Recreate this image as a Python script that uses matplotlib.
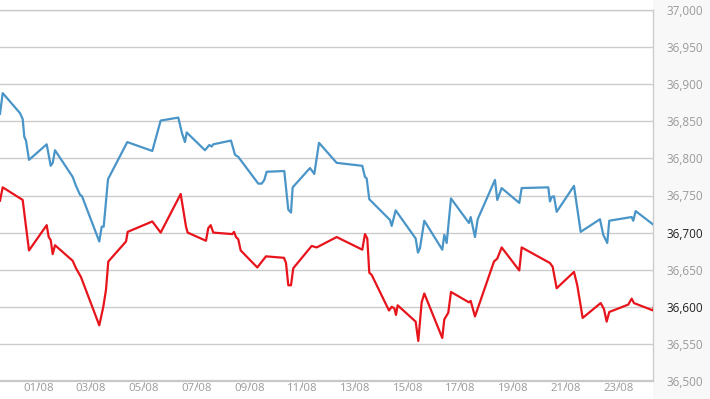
import matplotlib
matplotlib.use("Agg")
import matplotlib.pyplot as plt
from matplotlib.patches import Rectangle
from matplotlib.ticker import FuncFormatter

# time in days counted from 01/08 00:00
blue_t = [-1.451, -1.349, -0.693, -0.591, -0.530, -0.466, -0.352, 0.318, 0.470, 0.546,
          0.633, 1.303, 1.428, 1.580, 1.656, 2.311, 2.402, 2.478, 2.641, 3.372,
          4.319, 4.637, 5.304, 5.444, 5.558, 5.622, 6.316, 6.478, 6.569, 6.630,
          7.301, 7.452, 7.577, 8.335, 8.464, 8.562, 8.653, 9.320, 9.471, 9.574,
          9.638, 10.294, 10.457, 10.635, 11.305, 12.275, 12.377, 12.442, 12.540, 13.325,
          13.389, 13.540, 14.298, 14.385, 14.461, 14.624, 15.306, 15.382, 15.473, 15.636,
          16.317, 16.382, 16.545, 16.647, 17.302, 17.390, 17.556, 18.223, 18.314, 19.322,
          19.386, 19.451, 19.538, 19.640, 20.296, 20.549, 21.281, 21.406, 21.557, 21.633,
          22.481, 22.542, 22.633, 23.364]
blue_v = [36860, 36888, 36861, 36853, 36829, 36824, 36798, 36819, 36790, 36794,
          36811, 36775, 36763, 36751, 36749, 36688, 36708, 36708, 36772, 36822,
          36810, 36851, 36855, 36834, 36822, 36835, 36811, 36818, 36816, 36819,
          36824, 36805, 36802, 36766, 36766, 36771, 36782, 36783, 36731, 36727,
          36761, 36787, 36779, 36821, 36794, 36790, 36775, 36773, 36745, 36717,
          36709, 36730, 36692, 36673, 36679, 36716, 36677, 36697, 36686, 36746,
          36713, 36721, 36694, 36718, 36771, 36744, 36760, 36740, 36760, 36761,
          36742, 36748, 36749, 36728, 36763, 36701, 36718, 36697, 36686, 36716,
          36721, 36716, 36729, 36709]

red_t = [-1.451, -1.349, -0.591, -0.466, -0.352, 0.318, 0.394, 0.470, 0.546, 0.633,
         1.303, 1.428, 1.618, 2.311, 2.463, 2.565, 2.652, 3.323, 3.387, 4.319,
         4.637, 5.395, 5.596, 5.660, 6.353, 6.440, 6.532, 6.630, 7.350, 7.415,
         7.490, 7.577, 7.668, 8.297, 8.627, 9.309, 9.385, 9.472, 9.574, 9.661,
         10.358, 10.547, 11.305, 12.275, 12.377, 12.465, 12.540, 12.631, 13.287, 13.389,
         13.488, 13.552, 13.616, 14.298, 14.397, 14.525, 14.624, 15.306, 15.382, 15.533,
         15.636, 16.317, 16.382, 16.545, 17.265, 17.390, 17.556, 18.223, 18.314, 19.386,
         19.488, 19.640, 20.296, 20.421, 20.625, 21.307, 21.432, 21.534, 21.633, 22.353,
         22.481, 22.569, 23.301, 23.364]
red_v = [36743, 36761, 36744, 36708, 36676, 36710, 36694, 36690, 36671, 36683,
         36662, 36652, 36640, 36575, 36600, 36623, 36661, 36688, 36701, 36715,
         36700, 36752, 36708, 36700, 36689, 36706, 36710, 36700, 36698, 36701,
         36694, 36691, 36676, 36653, 36668, 36666, 36659, 36629, 36629, 36652,
         36682, 36680, 36694, 36677, 36698, 36692, 36646, 36643, 36595, 36600,
         36598, 36589, 36602, 36580, 36554, 36606, 36618, 36558, 36583, 36592,
         36620, 36606, 36608, 36587, 36661, 36665, 36680, 36649, 36680, 36659,
         36654, 36625, 36647, 36629, 36585, 36605, 36597, 36580, 36593, 36603,
         36611, 36605, 36595, 36609]

x_ticks = list(range(0, 24, 2))
x_labels = ["01/08", "03/08", "05/08", "07/08", "09/08", "11/08",
            "13/08", "15/08", "17/08", "19/08", "21/08", "23/08"]
cut_tick, cut_label = -2, "30/07"   # only its tail shows at the left edge
y_ticks = list(range(36500, 37001, 50))
dark_labels = [36700, 36600]

plt.rcParams['font.family'] = ['Open Sans', 'DejaVu Sans']

fig = plt.figure(figsize=(7.1, 3.99), dpi=100)
# light grey strip behind the value labels
fig.patches.append(Rectangle((653 / 710, 0), 1, 1, transform=fig.transFigure,
                             facecolor='#f8f8f8', edgecolor='none', zorder=-5))
ax = fig.add_axes([0, 18 / 399, 653 / 710, 371 / 399])

ax.plot(blue_t, blue_v, color='#4a95c8', lw=1.6, zorder=3)
ax.plot(red_t, red_v, color='#e8141c', lw=1.6, zorder=3)

ax.set_xticks(x_ticks)
ax.set_xticklabels(x_labels)
ax.yaxis.tick_right()
ax.set_yticks(y_ticks)
ax.yaxis.set_major_formatter(FuncFormatter(lambda v, p: f"{int(v):,}"))
ax.set_xlim(-1.451, 23.29)
ax.set_ylim(36500, 37000)

ax.annotate(cut_label, xy=(cut_tick, 0), xycoords=ax.get_xaxis_transform(),
            xytext=(0, -1.1), textcoords='offset points', ha='center', va='top',
            fontsize=8.2, color='#9a9a9a', annotation_clip=False)

ax.grid(axis='y', color='#cccccc', lw=1.0)
ax.set_axisbelow(True)
ax.spines['left'].set_visible(False)
ax.spines['top'].set_color('#cccccc')
ax.spines['top'].set_linewidth(1.0)
ax.spines['right'].set_color('#cccccc')
ax.spines['right'].set_linewidth(1.0)
ax.spines['bottom'].set_color('#c8c8c8')
ax.spines['bottom'].set_linewidth(1.6)

ax.tick_params(axis='x', length=4.5, width=0.8, color='#cccccc', pad=-3.4,
               labelsize=8.2, labelcolor='#9a9a9a')
ax.tick_params(axis='y', length=0, pad=10, labelsize=8.5, labelcolor='#9a9a9a')
for lbl, v in zip(ax.get_yticklabels(), y_ticks):
    if v in dark_labels:
        lbl.set_color('#222222')

fig.savefig("out.png", dpi=100)
